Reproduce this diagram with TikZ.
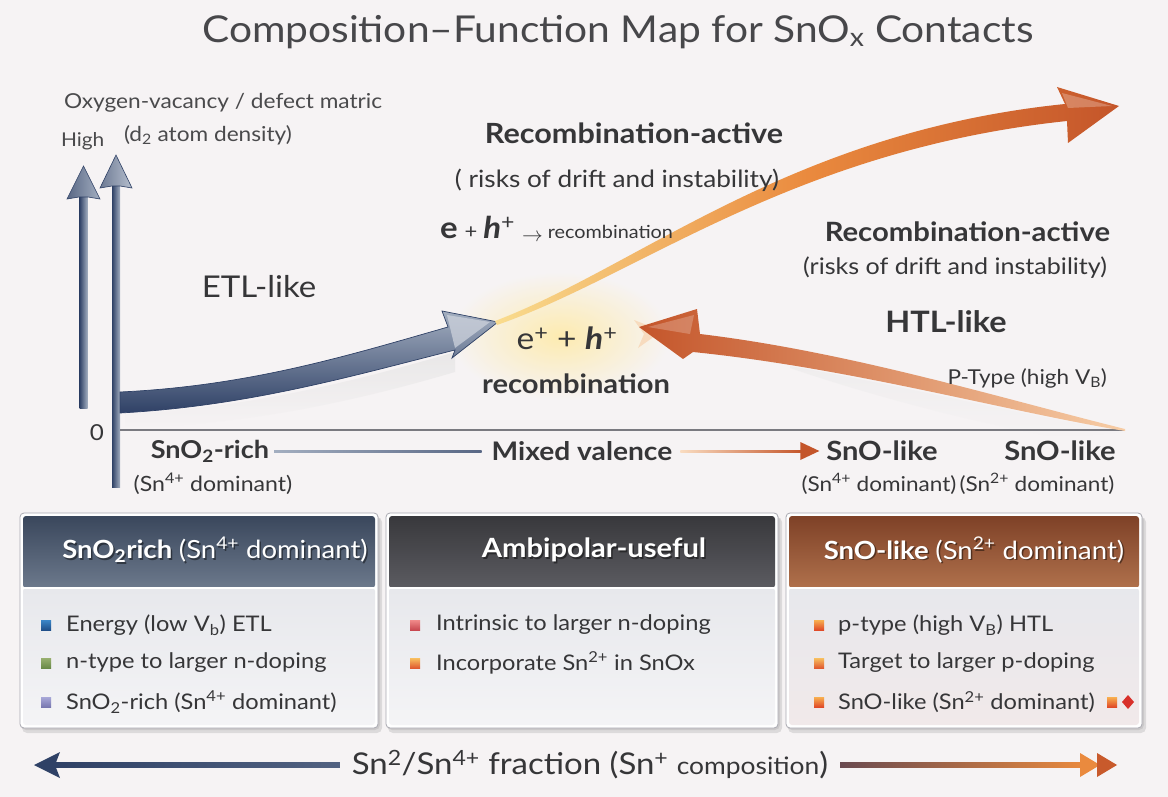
\documentclass[tikz,border=0pt]{standalone}
\usepackage{fontspec}
\setmainfont{Lato}[FakeStretch=1.1]
\usetikzlibrary{calc}

\definecolor{bg}{HTML}{F6F3F4}
\definecolor{ink}{HTML}{363638}
\definecolor{titleink}{HTML}{47474A}
\definecolor{navy}{HTML}{2F4166}
\definecolor{steel}{HTML}{A3AEC0}
\definecolor{orPale}{HTML}{F9DC8E}
\definecolor{orMid}{HTML}{EA8A3E}
\definecolor{orDeep}{HTML}{C4552A}
\definecolor{peach}{HTML}{F7CDA6}
\definecolor{glow}{HTML}{FDEBB0}
\definecolor{axisgray}{HTML}{7A7A80}
\definecolor{hdBlueA}{HTML}{3A475C}
\definecolor{hdBlueB}{HTML}{6C798C}
\definecolor{hdGrayA}{HTML}{38383C}
\definecolor{hdGrayB}{HTML}{5C5C61}
\definecolor{hdBrownA}{HTML}{7E4127}
\definecolor{hdBrownB}{HTML}{B0714C}
\definecolor{bodyA}{HTML}{E7E8EC}
\definecolor{bodyB}{HTML}{F4F4F6}
\definecolor{bodyPink}{HTML}{F1E9EA}
\definecolor{boxedge}{HTML}{A9A9B1}
\definecolor{sqBlueA}{HTML}{3B86C8}
\definecolor{sqBlueB}{HTML}{1F4F8A}
\definecolor{sqGreenA}{HTML}{98B070}
\definecolor{sqGreenB}{HTML}{6A8A48}
\definecolor{sqLilacA}{HTML}{A8A8D8}
\definecolor{sqLilacB}{HTML}{7878B0}
\definecolor{sqRoseA}{HTML}{F08A8A}
\definecolor{sqRoseB}{HTML}{C84850}
\definecolor{sqAmberA}{HTML}{F8C060}
\definecolor{sqAmberB}{HTML}{E05A30}
\definecolor{sqOrA}{HTML}{F8B050}
\definecolor{sqOrB}{HTML}{E04A28}
\definecolor{diamondred}{HTML}{D8302A}
\definecolor{plum}{HTML}{6A4A50}

\newcommand\fs[1]{\fontsize{#1}{#1}\selectfont}

\tikzset{
  txt/.style={inner sep=0pt, outer sep=0pt, text=ink},
  headtxt/.style={inner sep=0pt, text=white},
  headshadow/.style={inner sep=0pt, text=black, opacity=0.45},
  bullettxt/.style={inner sep=0pt, anchor=west, text=ink, font=\fs{21.5}},
}

% one panel: left x, right x, header top colour, header bottom colour, body bottom colour
\newcommand\panelbox[5]{%
  \fill[black, opacity=0.10, rounded corners=5] (#1+2,517) rectangle (#2+4,733);
  \fill[black, opacity=0.08, rounded corners=5] (#1+1,515) rectangle (#2+2,730);
  \fill[white, rounded corners=4] (#1,513) rectangle (#2,728);
  \shade[top color=bodyA, bottom color=#5, rounded corners=3] (#1+3,588) rectangle (#2-3,725);
  \shade[top color=#3, bottom color=#4, rounded corners=3] (#1+3,516) rectangle (#2-3,588);
  \draw[white, line width=1.2] (#1+3,588) -- (#2-3,588);
  \draw[boxedge, line width=0.8, rounded corners=4] (#1,513) rectangle (#2,728);
}

\newcommand\bulletsq[3]{%
  \shade[top color=#2, bottom color=#3] (#1) ++(-5,-5) rectangle ++(10,10);
}

\begin{document}
\begin{tikzpicture}[x=1pt, y=-1pt]
\fill[bg] (0,0) rectangle (1168,797);
\useasboundingbox (0,0) rectangle (1168,797);

% title
\node[txt, text=titleink, font=\fs{37}] (title) at (618,32)
  {Composition–Function Map for SnO\textsubscript{x} Contacts};

% glow round the recombination zone
\shade[inner color=glow, outer color=bg] (560,336) ellipse [x radius=110, y radius=64];

% soft shadows under the two lower arrows
\shade[top color=black!12, bottom color=bg, opacity=0.6]
  (125,414) .. controls (250,408) and (360,380) .. (455,352) -- (455,372)
  .. controls (360,400) and (250,425) .. (125,428) -- cycle;
\shade[top color=black!10, bottom color=bg, opacity=0.4]
  (790,366) .. controls (900,385) and (1020,415) .. (1125,432) -- (1060,438)
  .. controls (960,420) and (860,392) .. (790,368) -- cycle;

% vertical axis arrows
\shade[left color=navy, right color=steel] (79.5,196) rectangle (87.5,408);
\shade[left color=navy!80, right color=steel, draw=navy, line width=0.6]
  (67,199) -- (83.5,166) -- (100,199) -- (88,197) -- (79,197) -- cycle;
\shade[left color=navy, right color=steel] (112,184) rectangle (120,487);
\shade[left color=navy!70, right color=steel!80, draw=navy, line width=0.6]
  (100,188) -- (116,155) -- (132,188) -- (120,186) -- (112,186) -- cycle;

% horizontal axis
\draw[axisgray, line width=1.3] (120,430) -- (1125,430);

% rising blue arrow (ETL side)
\shade[top color=steel, bottom color=navy, draw=navy, line width=0.7]
  (120,392) .. controls (250,386) and (350,355) .. (448,327)
  -- (442,311) -- (498,322) -- (452,358) -- (455,350)
  .. controls (355,375) and (250,406) .. (120,413) -- cycle;
\fill[steel!55!white, opacity=0.75] (447,315) -- (490,322) -- (455,348) -- cycle;

% S-shaped orange arrow towards the upper right
\shade[left color=orPale, right color=orDeep, middle color=orMid]
  (495,321) .. controls (640,266) and (790,132) .. (1065,104)
  -- (1057,87) -- (1119,106) -- (1068,143) -- (1067,121)
  .. controls (792,150) and (640,275) .. (497,325) -- cycle;
\fill[white, opacity=0.25] (1062,93) -- (1112,106) -- (1068,108) -- cycle;

% faint echo of the returning arrowhead
\fill[peach, opacity=0.6] (634,320) -- (662,331) -- (638,348) -- (644,334) -- cycle;

% orange arrow from the SnO end back to the centre
\shade[left color=orDeep, right color=peach]
  (1125,429) .. controls (1000,398) and (850,352) .. (700,334)
  -- (697,309) -- (639,327) -- (683,359) -- (693,352)
  .. controls (850,368) and (1000,410) .. (1125,431) -- cycle;
\fill[white, opacity=0.22] (694,315) -- (648,327) -- (690,334) -- cycle;

% axis labels
\node[txt, text=ink!90, font=\fs{20.6}, anchor=west] (ylab) at (64,103) {Oxygen-vacancy / defect matric};
\node[txt, text=ink!90, font=\fs{20.6}, anchor=west] (ylab2) at (124,135) {(d\textsubscript{2} atom density)};
\node[txt, text=ink!90, font=\fs{19}, anchor=west] (high) at (61,141) {High};
\node[txt, font=\fs{22}] (zero) at (97,433) {0};

% region labels in the plot
\node[txt, font=\bfseries\fs{27.8}] (recA) at (634,133) {Recombination-active};
\node[txt, font=\fs{23.8}] (riskA) at (617,180) {( risks of drift and instability)};
\node[txt, anchor=west] (eqA) at (440,229)
  {{\bfseries\fs{30}e}\hspace{7pt}{\fs{20}+}\hspace{6pt}{\fs{30}\bfseries\itshape h}{\fs{30}\textsuperscript{+}}\hspace{7pt}\raisebox{-3pt}{\fs{22}$\rightarrow$}\hspace{5pt}{\fs{18}recombination}};
\node[txt, font=\fs{30}] (etl) at (259,287) {ETL-like};
\node[txt, font=\fs{30.5}] (ehA) at (567,338) {e\textsuperscript{+} + \textit{\bfseries h}\textsuperscript{+}};
\node[txt, font=\bfseries\fs{26.5}] (recB) at (576,384) {recombination};
\node[txt, font=\bfseries\fs{26.6}, anchor=east] (recC) at (1110,232) {Recombination-active};
\node[txt, font=\fs{22.8}, anchor=east] (riskB) at (1107,268) {(risks of drift and instability)};
\node[txt, font=\bfseries\fs{29.5}] (htl) at (946,322) {HTL-like};
\node[txt, font=\fs{20.5}, anchor=east] (ptype) at (1107,378) {P-Type (high V\textsubscript{B})};

% composition scale under the axis
\node[txt, font=\bfseries\fs{24.6}] (sno2) at (210,451) {SnO\textsubscript{2}-rich};
\node[txt, font=\fs{21}] (sno2d) at (213,484) {(Sn\textsuperscript{4+} dominant)};
\node[txt, font=\bfseries\fs{25.6}] (mixed) at (582,451) {Mixed valence};
\node[txt, font=\bfseries\fs{26.5}] (snoA) at (882,451) {SnO-like};
\node[txt, font=\fs{20.5}] (snoAd) at (879,484) {(Sn\textsuperscript{4+} dominant)};
\node[txt, font=\bfseries\fs{26.5}] (snoB) at (1060,451) {SnO-like};
\node[txt, font=\fs{20.5}] (snoBd) at (1037,484) {(Sn\textsuperscript{2+} dominant)};
\shade[left color=steel, right color=navy!80] ($(sno2.east)+(5,-1)$) rectangle ($(mixed.west)+(-10,1)$);
\shade[left color=peach!70, right color=orDeep] ($(mixed.east)+(8,-1)$) rectangle ($(snoA.west)+(-24,1)$);
\fill[orDeep] ($(snoA.west)+(-26,-9)$) -- ($(snoA.west)+(-7,0)$) -- ($(snoA.west)+(-26,9)$) -- cycle;

% panels
\panelbox{20}{378}{hdBlueA}{hdBlueB}{bodyB}
\panelbox{386}{778}{hdGrayA}{hdGrayB}{bodyB}
\panelbox{786}{1142}{hdBrownA}{hdBrownB}{bodyPink}

\node[headshadow, font=\fs{25}] at (216.5,551.5) {\bfseries SnO\textsubscript{2}rich \mdseries(Sn\textsuperscript{4+} dominant)};
\node[headtxt, font=\fs{25}] (hd1) at (215,550) {\bfseries SnO\textsubscript{2}rich \mdseries(Sn\textsuperscript{4+} dominant)};
\node[headshadow, font=\bfseries\fs{26.5}] at (595.5,551.5) {Ambipolar-useful};
\node[headtxt, font=\bfseries\fs{26.5}] (hd2) at (594,550) {Ambipolar-useful};
\node[headshadow, font=\fs{25}] at (975.5,551.5) {\bfseries SnO-like \mdseries(Sn\textsuperscript{2+} dominant)};
\node[headtxt, font=\fs{25}] (hd3) at (974,550) {\bfseries SnO-like \mdseries(Sn\textsuperscript{2+} dominant)};

% bullets, left panel
\bulletsq{46,625}{sqBlueA}{sqBlueB}
\bulletsq{46,663}{sqGreenA}{sqGreenB}
\bulletsq{46,702}{sqLilacA}{sqLilacB}
\node[bullettxt] (b11) at (66,625) {Energy (low V\textsubscript{b}) ETL};
\node[bullettxt] (b12) at (66,663) {n-type to larger n-doping};
\node[bullettxt] (b13) at (66,702) {SnO\textsubscript{2}-rich (Sn\textsuperscript{4+} dominant)};

% bullets, middle panel
\bulletsq{415,625}{sqRoseA}{sqRoseB}
\bulletsq{415,663}{sqAmberA}{sqAmberB}
\node[bullettxt] (b21) at (436,625) {Intrinsic to larger n-doping};
\node[bullettxt] (b22) at (436,663) {Incorporate Sn\textsuperscript{2+} in SnOx};

% bullets, right panel
\bulletsq{819,625}{sqOrA}{sqOrB}
\bulletsq{819,663}{sqAmberA}{sqAmberB}
\bulletsq{819,702}{sqOrA}{sqOrB}
\node[bullettxt] (b31) at (838,625) {p-type (high V\textsubscript{B}) HTL};
\node[bullettxt] (b32) at (838,663) {Target to larger p-doping};
\node[bullettxt] (b33) at (838,702) {SnO-like (Sn\textsuperscript{2+} dominant)};
\bulletsq{1112,702}{sqOrA}{sqOrB}
\fill[diamondred] (1128,695) -- (1134,702) -- (1128,709) -- (1122,702) -- cycle;

% composition arrow at the bottom
\node[txt, font=\fs{30}] (frac) at (590,765)
  {Sn\textsuperscript{2}/Sn\textsuperscript{4+} fraction (Sn\textsuperscript{+} {\fs{24}composition})};
\shade[left color=navy, right color=navy!70!steel] (54,762.5) rectangle ($(frac.west)+(-12,2.5)$);
\fill[navy] (34,765) -- (60,752) -- (55,765) -- (60,778) -- cycle;
\shade[left color=plum, right color=orMid] ($(frac.east)+(12,-2.5)$) rectangle (1086,767.5);
\fill[orMid] (1080,753) -- (1100,765) -- (1080,777) -- cycle;
\fill[orDeep!90!orMid] (1097,753) -- (1117,765) -- (1097,777) -- cycle;
\end{tikzpicture}
\end{document}
